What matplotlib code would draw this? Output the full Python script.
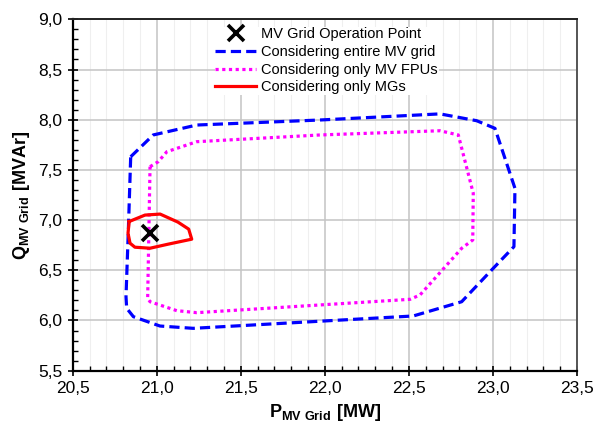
import matplotlib
matplotlib.use("Agg")
import matplotlib.pyplot as plt
from matplotlib.ticker import MultipleLocator, FuncFormatter

plt.rcParams['font.family'] = ['Liberation Sans', 'DejaVu Sans']
plt.rcParams['mathtext.fontset'] = 'custom'
plt.rcParams['mathtext.rm'] = 'Liberation Sans'
plt.rcParams['mathtext.bf'] = 'Liberation Sans:bold'

# operation point
op_p = [20.96]
op_q = [6.87]

# entire MV grid
grid_p = [20.845, 20.979, 21.238, 21.971, 22.685, 22.903, 23.012, 23.131, 23.125,
          23.002, 22.814, 22.526, 21.217, 21.019, 20.861, 20.821, 20.817, 20.831, 20.845]
grid_q = [7.631, 7.848, 7.947, 7.997, 8.058, 7.990, 7.914, 7.317, 6.735,
          6.520, 6.187, 6.045, 5.922, 5.945, 6.038, 6.122, 6.237, 6.900, 7.631]

# only MV FPUs
fpu_p = [20.960, 21.009, 21.060, 21.238, 21.971, 22.685, 22.794, 22.883, 22.880,
         22.814, 22.566, 22.507, 21.238, 21.119, 20.960, 20.946, 20.960]
fpu_q = [7.532, 7.582, 7.681, 7.781, 7.848, 7.890, 7.848, 7.267, 6.802,
         6.719, 6.254, 6.211, 6.078, 6.098, 6.187, 6.221, 7.532]

# only MGs
mg_p = [20.836, 20.930, 21.020, 21.126, 21.190, 21.208, 21.067, 20.960, 20.870, 20.841, 20.829, 20.836]
mg_q = [6.986, 7.050, 7.060, 6.980, 6.910, 6.810, 6.760, 6.720, 6.730, 6.770, 6.870, 6.986]

fig = plt.figure(figsize=(5.95, 4.29), dpi=100)
ax = fig.add_axes([0.1222, 0.1359, 0.8475, 0.8191])

ax.plot(grid_p, grid_q, color='#0000ff', lw=2.3, dashes=(3.2, 1.6),
        label='Considering entire MV grid', zorder=3)
ax.plot(fpu_p, fpu_q, color='#ff00ff', lw=2.3, dashes=(1, 1.1),
        label='Considering only MV FPUs', zorder=3)
ax.plot(mg_p, mg_q, color='#ff0000', lw=2.3, label='Considering only MGs', zorder=4)
ax.plot(op_p, op_q, ls='none', marker='x', ms=11, mew=2.6, color='black',
        label='MV Grid Operation Point', zorder=5)

ax.set_xlim(20.5, 23.5)
ax.set_ylim(5.5, 9.0)
ax.xaxis.set_major_locator(MultipleLocator(0.5))
ax.xaxis.set_minor_locator(MultipleLocator(0.1))
ax.yaxis.set_major_locator(MultipleLocator(0.5))
ax.yaxis.set_minor_locator(MultipleLocator(0.1))
fmt = FuncFormatter(lambda v, pos: f"{v:.1f}".replace('.', ','))
ax.xaxis.set_major_formatter(fmt)
ax.yaxis.set_major_formatter(fmt)

ax.grid(which='major', color='#c4c4c4', lw=1.1, zorder=0)
ax.grid(which='minor', axis='x', color='#efefef', lw=0.8, zorder=0)
ax.set_axisbelow(True)

ax.tick_params(which='major', direction='inout', length=7, width=1.2, labelsize=12.5, pad=4)
ax.tick_params(which='minor', direction='in', length=3.5, width=1)

for s in ['left', 'bottom']:
    ax.spines[s].set_linewidth(1.6)
    ax.spines[s].set_color('black')
ax.spines['top'].set_color('#222222')
ax.spines['right'].set_color('#555555')
ax.spines['top'].set_linewidth(1.4)
ax.spines['right'].set_linewidth(1.4)

ax.set_xlabel(r'$\mathbf{P_{MV\ Grid}\ [MW]}$', fontsize=13, labelpad=4)
ax.set_ylabel(r'$\mathbf{Q_{MV\ Grid}\ [MVAr]}$', fontsize=13, labelpad=4)

h, l = ax.get_legend_handles_labels()
order = [3, 0, 1, 2]
leg = ax.legend([h[i] for i in order], [l[i] for i in order], loc='upper left',
                bbox_to_anchor=(0.267, 1.0), fontsize=10.5, frameon=True,
                facecolor='white', edgecolor='none', framealpha=1,
                handlelength=2.8, handletextpad=0.35, labelspacing=0.25,
                borderpad=0.05, fancybox=False)

fig.savefig('out.png', dpi=100)
